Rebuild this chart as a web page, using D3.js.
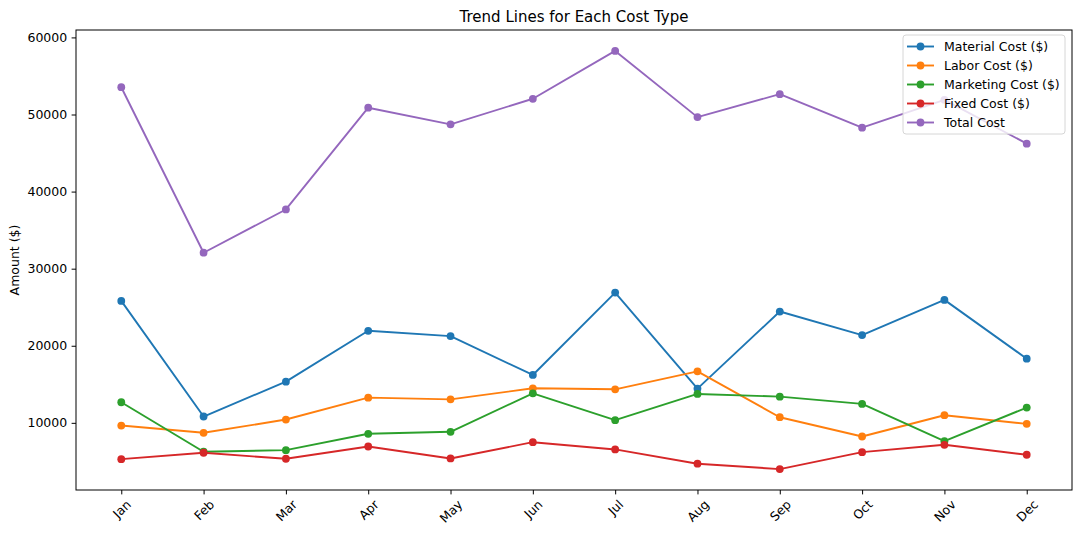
<!DOCTYPE html>
<html>
<head>
<meta charset="utf-8">
<script src="https://cdn.jsdelivr.net/npm/d3@7"></script>
<style>
  body { margin: 0; background: #fff; }
  text { font-family: "DejaVu Sans", sans-serif; fill: #000; }
</style>
</head>
<body>
<div id="chart"></div>
<script>
const months = ['Jan','Feb','Mar','Apr','May','Jun','Jul','Aug','Sep','Oct','Nov','Dec'];
const seriesNames = ['Material Cost ($)','Labor Cost ($)','Marketing Cost ($)','Fixed Cost ($)','Total Cost'];
const materialCost = [25820,10820,15340,21940,21250,16210,26900,14440,24440,21380,25950,18320];
const laborCost = [9650,8710,10430,13270,13050,14480,14350,16680,10730,8230,10990,9870];
const marketingCost = [12670,6250,6460,8580,8840,13830,10340,13750,13400,12460,7620,11980];
const fixedCost = [5290,6120,5340,6930,5380,7490,6550,4700,4000,6200,7150,5860];
const totalCost = [53540,32070,37680,50880,48720,52040,58250,49660,52640,48290,51900,46220];
const yTicks = [10000,20000,30000,40000,50000,60000];

const colors = ['#1f77b4','#ff7f0e','#2ca02c','#d62728','#9467bd'];
const allSeries = [materialCost, laborCost, marketingCost, fixedCost, totalCost];

const W = 1080, H = 536;
const margin = {top: 30, right: 8, bottom: 46, left: 76};
const innerW = W - margin.left - margin.right;
const innerH = H - margin.top - margin.bottom;
const fs = 12.5;

const svg = d3.select('#chart').append('svg').attr('width', W).attr('height', H);
const g = svg.append('g').attr('transform', `translate(${margin.left},${margin.top})`);

// matplotlib-like 5% padding on both axes
const span = innerW / 1.1;
const x = d3.scalePoint().domain(months).range([innerW * 0.05 / 1.1, innerW * 0.05 / 1.1 + span]);

const vals = allSeries.flat();
const vMin = d3.min(vals), vMax = d3.max(vals);
const pad = (vMax - vMin) * 0.05;
const y = d3.scaleLinear().domain([vMin - pad, vMax + pad]).range([innerH, 0]);

// axes
const tickLen = 4.4;
const xA = d3.axisBottom(x).tickSizeOuter(0).tickSize(tickLen).tickPadding(4.4);
const yA = d3.axisLeft(y).tickValues(yTicks).tickSizeOuter(0).tickSize(tickLen).tickPadding(4.4).tickFormat(d3.format('d'));

const xAxisG = g.append('g').attr('transform', `translate(0,${innerH})`).call(xA);
const yAxisG = g.append('g').call(yA);
[xAxisG, yAxisG].forEach(a => {
  a.select('.domain').remove();
  a.selectAll('.tick line').attr('stroke', '#000').attr('stroke-width', 1);
  a.selectAll('.tick text').attr('font-size', fs).attr('fill', '#000');
});

// rotated x labels, top of rotated box at fixed offset, centered on tick
xAxisG.selectAll('.tick text').each(function(){
  const t = d3.select(this);
  const w = this.getComputedTextLength();
  const h = fs * 0.75;
  const boxH = (w + h) * Math.SQRT1_2;
  const cy = tickLen + 4.4 + boxH / 2;
  t.attr('y', null).attr('dy', null)
    .attr('text-anchor', 'middle')
    .attr('dominant-baseline', 'central')
    .attr('transform', `translate(0,${cy}) rotate(-45)`);
});

// frame
g.append('rect').attr('width', innerW).attr('height', innerH)
  .attr('fill', 'none').attr('stroke', '#000').attr('stroke-width', 1);

// lines + markers
const line = d3.line().x((d, i) => x(months[i])).y(d => y(d));
allSeries.forEach((s, k) => {
  const sg = g.append('g');
  sg.append('path').datum(s).attr('fill', 'none').attr('stroke', colors[k])
    .attr('stroke-width', 1.9).attr('stroke-linejoin', 'round').attr('d', line);
  sg.selectAll('circle').data(s).join('circle')
    .attr('cx', (d, i) => x(months[i])).attr('cy', d => y(d))
    .attr('r', 3.9).attr('fill', colors[k]);
});

// title & y label
svg.append('text').attr('x', margin.left + innerW / 2).attr('y', 21.5)
  .attr('text-anchor', 'middle').attr('font-size', 15).text('Trend Lines for Each Cost Type');
svg.append('text').attr('transform', `translate(19,${margin.top + innerH / 2}) rotate(-90)`)
  .attr('text-anchor', 'middle').attr('font-size', fs).text('Amount ($)');

// legend
const lg = svg.append('g').attr('transform', 'translate(903,35)');
lg.append('rect').attr('width', 162).attr('height', 99).attr('rx', 3)
  .attr('fill', '#fff').attr('fill-opacity', 0.8).attr('stroke', '#d6d6d6');
seriesNames.forEach((name, k) => {
  const ly = 11.5 + k * 19;
  lg.append('line').attr('x1', 4).attr('x2', 31).attr('y1', ly).attr('y2', ly)
    .attr('stroke', colors[k]).attr('stroke-width', 1.9);
  lg.append('circle').attr('cx', 17.5).attr('cy', ly).attr('r', 3.9).attr('fill', colors[k]);
  lg.append('text').attr('x', 41).attr('y', ly).attr('dominant-baseline', 'central')
    .attr('font-size', fs).text(name);
});
</script>
</body>
</html>
